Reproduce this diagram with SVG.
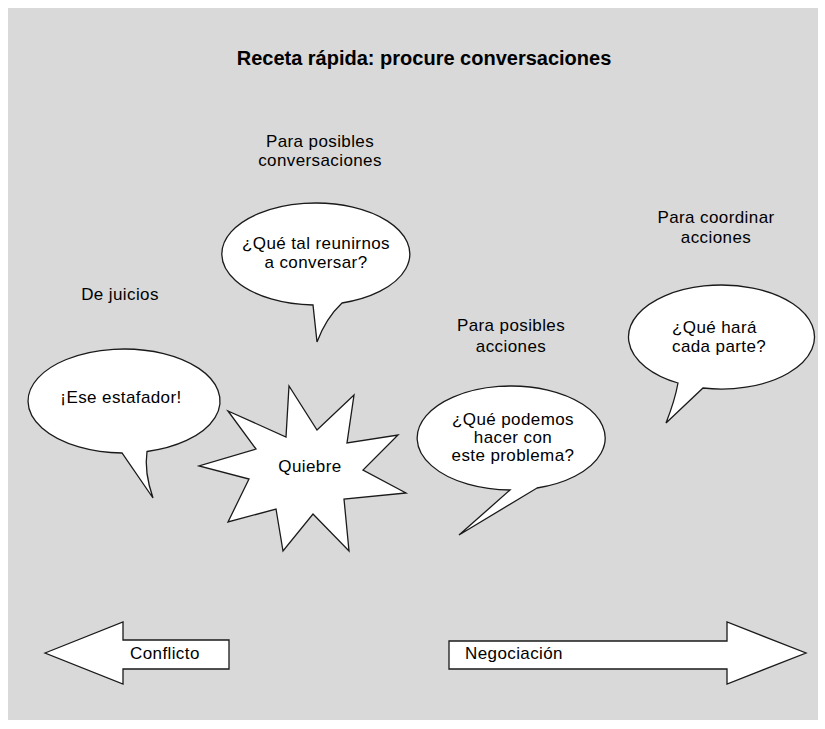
<svg xmlns="http://www.w3.org/2000/svg" width="825" height="729" viewBox="0 0 825 729">
<style>
.shape{fill:#ffffff;stroke:#1a1a1a;stroke-width:1.3;stroke-linejoin:miter}
.t{font-family:"Liberation Sans",Arial,sans-serif;font-size:17px;fill:#000;letter-spacing:0.4px}
.c{text-anchor:middle}
.title{font-family:"Liberation Sans",Arial,sans-serif;font-size:20px;font-weight:bold;fill:#000;text-anchor:middle}
</style>
<rect x="0" y="0" width="825" height="729" fill="#ffffff"/>
<rect x="8" y="8" width="810" height="712" fill="#d9d9d9"/>
<text class="title" x="424" y="65">Receta rápida: procure conversaciones</text>

<g id="label-conversaciones">
<text class="t c" x="320" y="147">Para posibles</text>
<text class="t c" x="320" y="166">conversaciones</text>
</g>
<g id="label-coordinar">
<text class="t c" x="716" y="223">Para coordinar</text>
<text class="t c" x="716" y="243">acciones</text>
</g>
<g id="label-juicios">
<text class="t c" x="120" y="300">De juicios</text>
</g>
<g id="label-acciones">
<text class="t c" x="511" y="331">Para posibles</text>
<text class="t c" x="511" y="352">acciones</text>
</g>

<g id="bubble-reunirnos">
<path class="shape" d="M313,305 A94,51 0 1 1 342,303 Q326,318 317,342 Z"/>
<text class="t c" x="316" y="249">¿Qué tal reunirnos</text>
<text class="t c" x="316" y="268">a conversar?</text>
</g>

<g id="bubble-estafador">
<path class="shape" d="M122,453 A96,52 0 1 1 147,451.5 Q144,472 153,498 Z"/>
<text class="t c" x="121" y="403">¡Ese estafador!</text>
</g>

<g id="star-quiebre">
<polygon class="shape" points="228,411 286,437 289,386 317,430 354,395 347,443 398,435 363,470 406,493 344,499 349,551 313,514 283,551 276,509 228,522 249,479 199,466 256,449"/>
<text class="t c" x="310" y="472">Quiebre</text>
</g>

<g id="bubble-problema">
<path class="shape" d="M510,490 A94,52 0 1 1 537,488 L459,535 Q492,506 510,490 Z"/>
<text class="t c" x="513" y="425">¿Qué podemos</text>
<text class="t c" x="513" y="443">hacer con</text>
<text class="t c" x="513" y="461">este problema?</text>
</g>

<g id="bubble-parte">
<path class="shape" d="M678,383 A93,52 0 1 1 703,388 L666,423 Q675,400 678,383 Z"/>
<text class="t" x="672" y="333">¿Qué hará</text>
<text class="t" x="672" y="352">cada parte?</text>
</g>

<g id="connectors">
<g id="arrow-conflicto">
<polygon class="shape" points="45,653 123,622 123,640 229,640 229,669 123,669 123,684"/>
<text class="t" x="130" y="659">Conflicto</text>
</g>
<g id="arrow-negociacion">
<polygon class="shape" points="449,641 727,641 727,622 806,653 727,684 727,669 449,669"/>
<text class="t" x="465" y="659">Negociación</text>
</g>
</g>
</svg>
